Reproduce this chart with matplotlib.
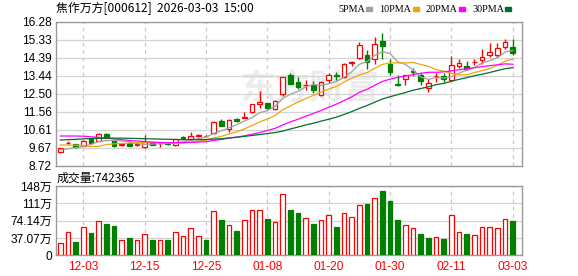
import numpy as np
import matplotlib
matplotlib.use("Agg")
import matplotlib.pyplot as plt
from matplotlib.patches import Rectangle

# trading days shown on the chart
dates = ["11-28", "12-01", "12-02", "12-03", "12-04", "12-05", "12-08", "12-09", "12-10", "12-11",
         "12-12", "12-15", "12-16", "12-17", "12-18", "12-19", "12-22", "12-23", "12-24", "12-25",
         "12-26", "12-29", "12-30", "12-31", "01-05", "01-06", "01-07", "01-08", "01-09", "01-12",
         "01-13", "01-14", "01-15", "01-16", "01-19", "01-20", "01-21", "01-22", "01-23", "01-26",
         "01-27", "01-28", "01-29", "01-30", "02-02", "02-03", "02-04", "02-05", "02-06", "02-09",
         "02-10", "02-11", "02-12", "02-13", "02-24", "02-25", "02-26", "02-27", "03-02", "03-03"]

open_ = [9.47, 9.93, 9.87, 9.78, 10.17, 10.05, 10.40, 10.06, 9.84, 9.94,
         9.83, 9.72, 9.95, 9.90, 9.90, 9.83, 10.25, 10.16, 10.30, 10.28,
         10.43, 11.06, 10.66, 11.17, 11.26, 11.57, 11.95, 12.01, 11.70, 12.48,
         13.47, 13.12, 12.94, 12.95, 12.46, 13.21, 13.50, 13.38, 14.12, 14.38,
         14.52, 14.34, 15.27, 14.08, 13.00, 13.26, 13.70, 13.50, 12.82, 13.42,
         13.42, 13.21, 13.94, 13.96, 14.15, 14.26, 14.52, 14.55, 14.96, 14.96]
close = [9.65, 9.95, 9.70, 10.03, 9.94, 10.40, 10.18, 9.75, 9.86, 9.79,
         9.86, 10.00, 9.83, 9.93, 9.87, 10.12, 10.16, 10.29, 10.32, 10.30,
         11.04, 10.83, 11.13, 11.08, 11.29, 11.95, 12.09, 11.76, 12.13, 13.37,
         13.03, 12.86, 12.97, 12.72, 13.12, 13.47, 13.46, 14.08, 14.15, 15.08,
         14.17, 15.13, 15.01, 13.65, 12.95, 13.47, 13.66, 13.16, 13.07, 13.45,
         13.30, 14.03, 14.12, 13.79, 14.18, 14.43, 14.69, 14.92, 15.22, 14.64]
high = [9.68, 10.05, 9.89, 10.06, 10.20, 10.43, 10.44, 10.08, 9.92, 9.96,
        9.95, 10.35, 9.97, 10.00, 9.93, 10.15, 10.28, 10.52, 10.40, 10.33,
        11.07, 11.18, 11.16, 11.22, 11.55, 11.98, 12.65, 12.04, 12.16, 13.40,
        13.61, 13.38, 13.21, 13.18, 13.15, 13.60, 13.64, 14.12, 14.22, 15.22,
        14.78, 15.48, 15.69, 14.31, 13.50, 13.50, 13.85, 13.60, 13.30, 13.60,
        13.58, 14.48, 14.31, 14.22, 14.31, 14.83, 15.18, 15.18, 15.36, 15.35]
low = [9.39, 9.86, 9.68, 9.75, 9.92, 10.03, 10.17, 9.72, 9.77, 9.75,
       9.77, 9.68, 9.80, 9.73, 9.80, 9.78, 10.13, 10.13, 10.22, 10.25,
       10.40, 10.80, 10.52, 11.00, 11.22, 11.48, 11.74, 11.72, 11.66, 12.40,
       13.00, 12.77, 12.69, 12.55, 12.40, 13.05, 13.20, 13.33, 13.98, 14.33,
       13.79, 14.08, 14.34, 13.47, 12.92, 12.95, 13.45, 12.95, 12.60, 13.10,
       13.12, 13.15, 13.85, 13.77, 14.03, 14.08, 14.45, 14.45, 14.83, 14.55]

# moving averages as drawn on the chart
ma5 = [9.58, 9.62, 9.68, 9.74, 9.85, 10.00, 10.05, 10.06, 10.03, 10.00,
       9.89, 9.85, 9.87, 9.88, 9.90, 9.95, 9.98, 10.07, 10.15, 10.24,
       10.42, 10.56, 10.72, 10.88, 11.07, 11.26, 11.51, 11.63, 11.84, 12.26,
       12.48, 12.63, 12.87, 12.99, 12.94, 13.03, 13.15, 13.37, 13.66, 14.05,
       14.19, 14.52, 14.71, 14.61, 14.18, 14.04, 13.75, 13.38, 13.26, 13.36,
       13.33, 13.40, 13.59, 13.74, 13.88, 14.11, 14.24, 14.40, 14.69, 14.78]
ma10 = [9.82, 9.82, 9.81, 9.80, 9.74, 9.75, 9.84, 9.88, 9.90, 9.92,
        9.94, 9.95, 9.96, 9.95, 9.95, 9.92, 9.92, 9.97, 10.02, 10.07,
        10.19, 10.27, 10.40, 10.51, 10.66, 10.84, 11.03, 11.18, 11.36, 11.67,
        11.87, 12.07, 12.25, 12.42, 12.60, 12.75, 12.89, 13.12, 13.32, 13.49,
        13.61, 13.84, 14.04, 14.13, 14.12, 14.12, 14.14, 14.04, 13.94, 13.77,
        13.69, 13.58, 13.49, 13.50, 13.62, 13.72, 13.82, 14.00, 14.21, 14.33]
ma20 = [10.29, 10.29, 10.29, 10.28, 10.25, 10.22, 10.18, 10.14, 10.10, 10.06,
        10.03, 10.00, 9.97, 9.95, 9.94, 9.94, 9.95, 9.96, 9.97, 9.99,
        10.06, 10.11, 10.18, 10.23, 10.30, 10.38, 10.47, 10.58, 10.69, 10.87,
        11.03, 11.17, 11.33, 11.47, 11.63, 11.80, 11.96, 12.15, 12.34, 12.58,
        12.74, 12.95, 13.15, 13.27, 13.36, 13.43, 13.51, 13.58, 13.63, 13.63,
        13.65, 13.71, 13.76, 13.82, 13.87, 13.92, 13.98, 14.02, 14.07, 14.05]
ma30 = [10.08, 10.10, 10.12, 10.14, 10.16, 10.17, 10.18, 10.18, 10.18, 10.17,
        10.16, 10.15, 10.14, 10.13, 10.12, 10.11, 10.10, 10.10, 10.10, 10.11,
        10.13, 10.15, 10.19, 10.23, 10.27, 10.32, 10.37, 10.42, 10.47, 10.55,
        10.66, 10.76, 10.87, 10.96, 11.07, 11.17, 11.28, 11.42, 11.57, 11.74,
        11.89, 12.06, 12.23, 12.35, 12.46, 12.57, 12.69, 12.78, 12.87, 12.98,
        13.05, 13.16, 13.26, 13.35, 13.45, 13.53, 13.62, 13.72, 13.82, 13.87]

# volume in 万 shares
volume = [25.7, 50.5, 28.5, 59.9, 47.1, 72.8, 66.3, 62.1, 32.1, 36.4,
          32.1, 46.2, 32.7, 32.1, 32.7, 49.2, 40.7, 57.8, 40.7, 32.7,
          94.2, 75.5, 64.2, 52.0, 74.9, 96.3, 96.3, 77.0, 70.6, 130.5,
          97.0, 90.5, 79.2, 67.0, 75.5, 85.6, 60.6, 89.9, 81.3, 107.0,
          109.8, 122.0, 137.6, 116.2, 75.5, 64.2, 57.8, 45.6, 37.0, 38.5,
          34.9, 85.6, 49.2, 44.9, 42.8, 59.9, 59.9, 57.8, 77.0, 74.2365]

price_ticks = ["8.72", "9.67", "10.61", "11.56", "12.50", "13.44", "14.39", "15.33", "16.28"]
vol_ticks = ["0", "37.07万", "74.14万", "111万", "148万"]
date_ticks = ["12-03", "12-15", "12-25", "01-08", "01-20", "01-30", "02-11", "03-03"]

RED = "#ff0000"
GREEN = "#008000"
GRID = "#d4d4d4"
FRAME = "#9a9a9a"
FONT = ["Liberation Sans", "Noto Sans CJK SC"]

open_, close, high, low = map(np.array, (open_, close, high, low))
x = np.arange(len(dates))
up = close >= open_
vol_up = np.r_[True, close[1:] >= close[:-1]]
tick_pos = [dates.index(d) for d in date_ticks]

W, H = 578, 276
fig = plt.figure(figsize=(W / 100, H / 100), dpi=100)
ax = fig.add_axes([56 / W, 1 - 166 / H, 466 / W, 144.3 / H])
axv = fig.add_axes([56 / W, 1 - 255.3 / H, 466 / W, 69.3 / H], sharex=ax)

# candles
ax.vlines(x, low, high, colors=np.where(up, RED, GREEN), lw=1, zorder=2)
body_lo = np.minimum(open_, close)
body_h = np.maximum(np.abs(close - open_), 0.012)
ax.bar(x, body_h, bottom=body_lo, width=0.6, color=np.where(up, "white", GREEN),
       edgecolor=np.where(up, RED, GREEN), linewidth=0.9, zorder=3)

# moving averages
for vals, col in [(ma5, "#a0a0a0"), (ma10, "#f0a30a"), (ma20, "#ff00ff"), (ma30, "#006f2e")]:
    ax.plot(x, vals, color=col, lw=0.9, zorder=4)

# volume bars
axv.bar(x, volume, width=0.6, color=np.where(vol_up, "white", GREEN),
        edgecolor=np.where(vol_up, RED, GREEN), linewidth=0.9, zorder=3)

ax.set_xlim(-0.56, 60.2)
ax.set_ylim(8.72, 16.28)
axv.set_ylim(0, 148.28)

ax.set_yticks(np.linspace(8.72, 16.28, 9))
ax.set_yticklabels(price_ticks)
axv.set_yticks(np.linspace(0, 148.28, 5))
axv.set_yticklabels(vol_ticks)
axv.set_xticks(tick_pos)
axv.set_xticklabels(date_ticks, color=RED)
ax.tick_params(axis="x", labelbottom=False)

for a in (ax, axv):
    a.tick_params(length=0, labelsize=8.6, pad=3)
    for lab in a.get_yticklabels() + a.get_xticklabels():
        lab.set_family(FONT)
    a.grid(axis="y", color=GRID, lw=0.9, zorder=0)
    for p in tick_pos:
        a.axvline(p, color="#c8c8c8", lw=0.9, ls=(0, (3, 3)), zorder=0)
    for s in a.spines.values():
        s.set_color(FRAME)
        s.set_linewidth(1)
axv.tick_params(axis="x", pad=4)

# faint watermark
ax.text(0.545, 0.54, "东方财富", transform=ax.transAxes, fontsize=25, color="#ececec",
        family="Noto Sans CJK SC", fontweight="bold", style="italic",
        ha="center", va="center", zorder=1)

# header and labels
fig.text(56 / W, 1 - 8.5 / H, "焦作万方[000612]  2026-03-03  15:00", fontsize=8.6,
         family=["Noto Sans CJK SC", "DejaVu Sans"], va="center", ha="left")
fig.text(57 / W, 1 - 178 / H, "成交量:742365", fontsize=8.6,
         family=["Noto Sans CJK SC", "DejaVu Sans"], va="center", ha="left")

legend = [("5PMA", 338, 366, "#a0a0a0"), ("10PMA", 379, 413, "#f0a30a"),
          ("20PMA", 425, 459, "#ff00ff"), ("30PMA", 472, 505, "#006f2e")]
for name, tx, sx, col in legend:
    fig.text(tx / W, 1 - 9 / H, name, fontsize=7.3, family="Liberation Serif",
             va="center", ha="left")
    fig.patches.append(Rectangle((sx / W, 1 - 10.5 / H), 6 / W, 3 / H,
                                 transform=fig.transFigure, color=col))

fig.savefig("out.png", dpi=100)
